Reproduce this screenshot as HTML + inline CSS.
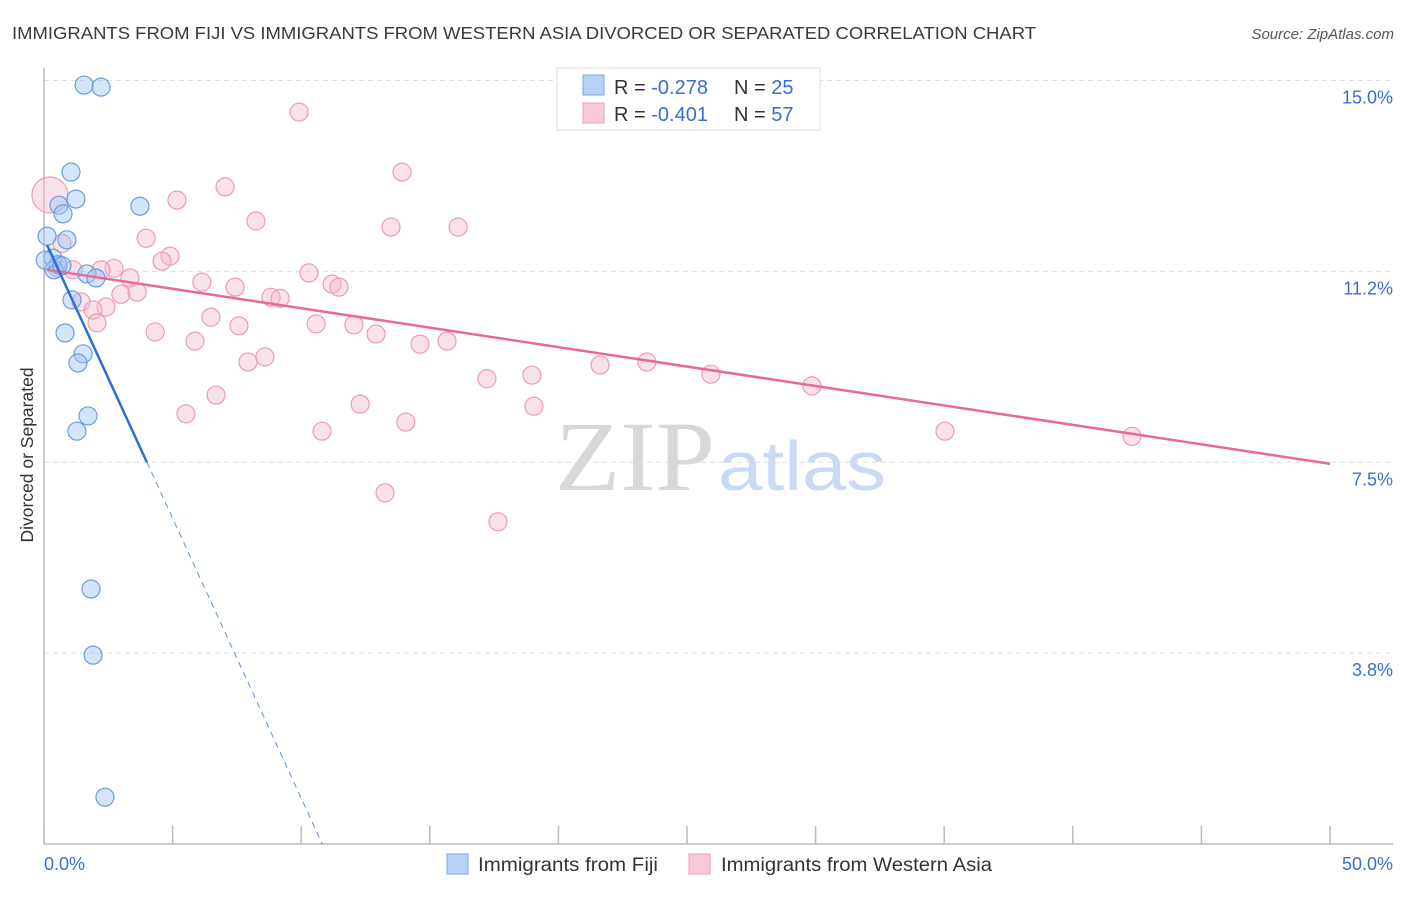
<!DOCTYPE html>
<html><head><meta charset="utf-8"><style>
body{margin:0;background:#fff;font-family:"Liberation Sans",sans-serif;}
svg text{font-family:"Liberation Sans",sans-serif;}
</style></head><body>
<svg id="chart" width="1406" height="892" viewBox="0 0 1406 892" xmlns="http://www.w3.org/2000/svg">
<text x="12" y="39" font-size="17.5" fill="#3a3a3a" textLength="1024" lengthAdjust="spacingAndGlyphs">IMMIGRANTS FROM FIJI VS IMMIGRANTS FROM WESTERN ASIA DIVORCED OR SEPARATED CORRELATION CHART</text>
<text x="1394" y="39" font-size="15" fill="#555" font-style="italic" text-anchor="end">Source: ZipAtlas.com</text>
<g>
<text x="555" y="490" font-size="100" fill="#d8d8d8" style="font-family:'Liberation Serif',serif" textLength="160" lengthAdjust="spacingAndGlyphs">ZIP</text>
<text x="718" y="490" font-size="70" fill="#c9daf2" textLength="168" lengthAdjust="spacingAndGlyphs">atlas</text>
</g>
<g id="grid"></g>
<g id="axes"></g>
<g id="marks"></g>
<text transform="translate(33,455) rotate(-90)" font-size="17.5" fill="#333" text-anchor="middle">Divorced or Separated</text>
<g>
<rect x="557" y="68" width="263" height="62" fill="#fff" stroke="#ddd"/>
<rect x="583" y="75" width="21" height="20" fill="#b8d2f5" stroke="#7aa6e6"/>
<text x="614" y="94" font-size="20" fill="#333">R = <tspan fill="#3a6fd0">-0.278</tspan></text>
<text x="734" y="94" font-size="20" fill="#333">N = <tspan fill="#3a6fd0">25</tspan></text>
<rect x="583" y="103" width="21" height="20" fill="#f9c9d7" stroke="#eaa0b8"/>
<text x="614" y="121" font-size="20" fill="#333">R = <tspan fill="#3a6fd0">-0.401</tspan></text>
<text x="734" y="121" font-size="20" fill="#333">N = <tspan fill="#3a6fd0">57</tspan></text>
</g>
<g>
<rect x="447" y="854" width="21" height="20" fill="#b8d2f5" stroke="#7aa6e6"/>
<text x="478" y="871" font-size="19" fill="#333" textLength="180" lengthAdjust="spacingAndGlyphs">Immigrants from Fiji</text>
<rect x="689" y="854" width="21" height="20" fill="#f9c9d7" stroke="#eaa0b8"/>
<text x="721" y="871" font-size="19" fill="#333" textLength="271" lengthAdjust="spacingAndGlyphs">Immigrants from Western Asia</text>
</g>
</svg>
<script>
const yTicks=[3.75,7.5,11.25,15];
const yTickLabels=["3.8%","7.5%","11.2%","15.0%"];
const xTickVals=[0,5,10,15,20,25,30,35,40,45,50];
const fijiX=[1.56,2.22,1.05,1.24,0.58,0.74,3.73,0.12,0.89,0.35,0.54,0.39,0.70,1.67,2.02,1.09,0.82,1.52,1.32,1.71,1.28,1.83,1.91,2.37,0.05];
const fijiY=[14.91,14.87,13.20,12.67,12.55,12.38,12.53,11.94,11.87,11.51,11.38,11.28,11.36,11.20,11.12,10.69,10.04,9.63,9.45,8.41,8.11,5.01,3.71,0.92,11.47];
const waX=[0.23,9.92,13.92,7.04,5.17,8.24,13.49,16.10,3.97,0.70,4.90,4.59,2.72,1.13,2.22,0.51,3.34,10.30,6.14,7.43,11.20,11.47,2.99,3.62,8.83,9.18,1.44,2.41,1.91,2.06,6.49,7.58,10.58,12.05,12.91,4.32,5.87,14.62,15.67,8.59,7.93,17.22,18.97,21.62,23.44,25.93,6.69,12.29,19.05,5.52,14.07,10.81,35.03,42.30,13.26,17.65,29.86];
const waY=[12.75,14.38,13.20,12.91,12.65,12.24,12.12,12.12,11.90,11.80,11.55,11.45,11.31,11.28,11.28,11.32,11.12,11.22,11.04,10.94,11.00,10.94,10.80,10.84,10.74,10.72,10.65,10.55,10.49,10.24,10.35,10.18,10.22,10.20,10.02,10.06,9.88,9.82,9.88,9.57,9.47,9.14,9.21,9.41,9.47,9.23,8.82,8.64,8.60,8.45,8.29,8.11,8.11,8.01,6.90,6.33,9.00];
const fijiTrend=[11.9,-1.10];
const waTrend=[11.29,-0.0764];

const NS="http://www.w3.org/2000/svg";
const X=v=>44+v*25.72, Y=v=>844-v*50.9;
function mk(p,t,a){const e=document.createElementNS(NS,t);for(const k in a)e.setAttribute(k,a[k]);p.appendChild(e);return e;}
const grid=document.getElementById('grid'),axes=document.getElementById('axes'),marks=document.getElementById('marks');
yTicks.forEach((v,i)=>{
 const l=mk(grid,'line',{x1:44,x2:1393,y1:Y(v),y2:Y(v),stroke:'#ddd','stroke-dasharray':'5,4'});
 
 
 const t=mk(axes,'text',{x:1393,y:Y(v)+23,'font-size':18,fill:'#3a6fd0','text-anchor':'end'});
 t.textContent=yTickLabels[i];
 
 
});
mk(axes,'line',{x1:44,x2:44,y1:68,y2:844,stroke:'#bbb','stroke-width':1.5});
mk(axes,'line',{x1:44,x2:1393,y1:844,y2:844,stroke:'#bbb','stroke-width':1.5});
xTickVals.forEach(v=>{
 const l=mk(axes,'line',{x1:X(v),x2:X(v),y1:826,y2:844,stroke:'#bbb','stroke-width':1.5});
 
 
});
let t=mk(axes,'text',{x:44,y:870,'font-size':18,fill:'#3a6fd0'});t.textContent='0.0%';


t=mk(axes,'text',{x:1393,y:870,'font-size':18,fill:'#3a6fd0','text-anchor':'end'});t.textContent='50.0%';



waX.forEach((x,i)=>{
 const c=mk(marks,'circle',{cx:X(x),cy:Y(waY[i]),r:i===0?18:9,fill:'rgba(246,182,202,0.4)',stroke:'#eb9cb6','stroke-width':1.2});
 
 
});
fijiX.forEach((x,i)=>{
 const c=mk(marks,'circle',{cx:X(x),cy:Y(fijiY[i]),r:9,fill:'rgba(160,196,242,0.45)',stroke:'#6a9de0','stroke-width':1.2});
 
 
});
let l=mk(marks,'line',{x1:X(0.12),y1:Y(waTrend[0]+waTrend[1]*0.12),x2:X(50),y2:Y(waTrend[0]+waTrend[1]*50),stroke:'#e86a94','stroke-width':2.5});


const fx0=0.12,fx1=4.0,fx2=-fijiTrend[0]/fijiTrend[1];
l=mk(marks,'line',{x1:X(fx0),y1:Y(fijiTrend[0]+fijiTrend[1]*fx0),x2:X(fx1),y2:Y(fijiTrend[0]+fijiTrend[1]*fx1),stroke:'#2b6fd6','stroke-width':2.5});


l=mk(marks,'line',{x1:X(fx1),y1:Y(fijiTrend[0]+fijiTrend[1]*fx1),x2:X(fx2),y2:Y(0),stroke:'#5a8fe0','stroke-width':1,'stroke-dasharray':'6,5'});


</script>
</body></html>
